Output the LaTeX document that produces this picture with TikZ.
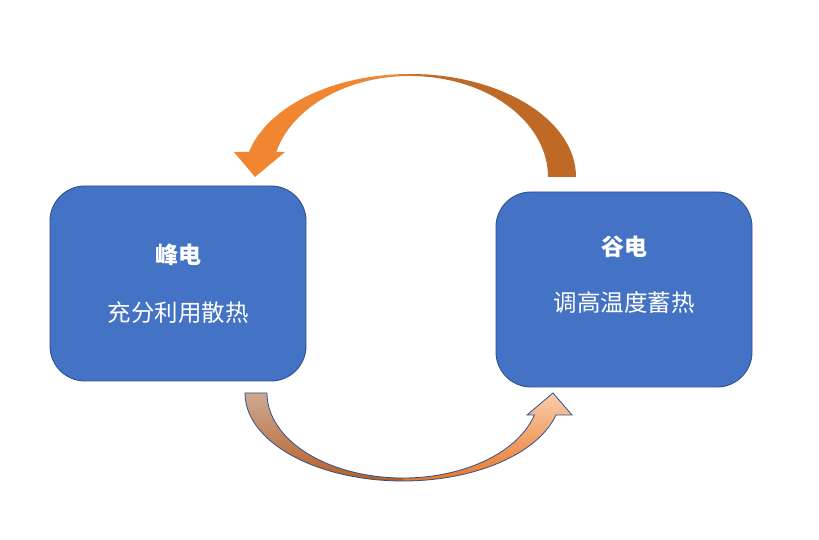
\documentclass[tikz,border=0pt]{standalone}
\usepackage{fontspec}
\newfontfamily\cjk{Noto Sans CJK SC}
\usetikzlibrary{calc}
\definecolor{boxblue}{RGB}{68,114,196}
\definecolor{boxedge}{RGB}{47,82,143}
\definecolor{orA}{RGB}{240,133,50}
\definecolor{orB}{RGB}{190,105,38}
\definecolor{bLT}{RGB}{205,172,150}
\definecolor{bLB}{RGB}{182,92,32}
\definecolor{bRT}{RGB}{250,208,175}
\definecolor{bRB}{RGB}{232,115,35}
\newcommand\toparrowpath{(576,363) arc[start angle=0,end angle=165.95,x radius=166pt,y radius=103pt] -- (234,388) -- (255,363) -- (285,388) -- ($(tc)+(165.67:138pt and 101pt)$) arc[start angle=165.67,end angle=0,x radius=138pt,y radius=101pt] -- cycle}
\newcommand\botarrowpath{(245,147) arc[start angle=180,end angle=345.52,x radius=158pt,y radius=88pt] -- (572,125) -- (553,147) -- (527,125) -- ($(bc)+(345:136pt and 85pt)$) arc[start angle=345,end angle=180,x radius=136pt,y radius=85pt] -- cycle}
\begin{document}
\begin{tikzpicture}[x=1pt,y=1pt,
  box/.style={fill=boxblue,draw=boxedge,line width=0.9pt,rounded corners=35pt,minimum width=256pt,minimum height=195pt,inner sep=0pt},
  ttl/.style={text=white,inner sep=0pt,font={\cjk\bfseries\fontsize{23}{28}\selectfont}},
  sub/.style={text=white,inner sep=0pt,font={\cjk\fontsize{23.5}{28}\selectfont}}]
\useasboundingbox (0,0) rectangle (819,540);
\fill[white] (0,0) rectangle (819,540);
\coordinate (tc) at (410,363);
\coordinate (bc) at (403,147);
% boxes
\node[box] (peak) at (178,256.5) {};
\node[box] (valley) at (624,250.5) {};
\node[ttl] (peakT) at ($(peak.center)+(0,28.5)$) {峰电};
\node[sub] (peakS) at ($(peak.center)+(0,-29.5)$) {充分利用散热};
\node[ttl] (valleyT) at ($(valley.center)+(0,42.5)$) {谷电};
\node[sub] (valleyS) at ($(valley.center)+(0,-13.5)$) {调高温度蓄热};
% top arrow (valley -> peak)
\begin{scope}
\clip \toparrowpath;
\fill[orA] (220,340) rectangle (395,480);
\shade[left color=orA,right color=orB] (395,340) rectangle (425,480);
\fill[orB] (425,340) rectangle (590,480);
\end{scope}
% bottom arrow (peak -> valley)
\begin{scope}
\clip \botarrowpath;
\shade[top color=bLT,bottom color=bLB] (235,55) rectangle (403.5,150);
\shade[top color=bRT,bottom color=bRB] (403,55) rectangle (580,150);
\end{scope}
\draw[boxedge,line width=0.8pt,line join=miter] \botarrowpath;
\end{tikzpicture}
\end{document}
